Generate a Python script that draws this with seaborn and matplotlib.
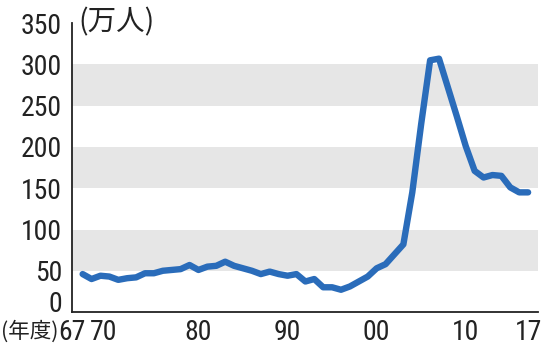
import matplotlib
matplotlib.use("Agg")
import matplotlib.pyplot as plt
import matplotlib.transforms as mtrans
import seaborn as sns
import pandas as pd
from matplotlib import font_manager

years = list(range(1967, 2018))
visitors = [46, 40, 44, 43, 39, 41, 42, 47, 47, 50,
            51, 52, 57, 51, 55, 56, 61, 56, 53, 50,
            46, 49, 46, 44, 46, 37, 40, 30, 30, 27,
            31, 37, 43, 53, 58, 70, 82, 145, 228, 305,
            307, 272, 237, 201, 171, 163, 166, 165, 151, 145, 145]
xtick_pos = [1967, 1970, 1980, 1990, 2000, 2010, 2017]
xtick_labels = ["67", "70", "80", "90", "00", "10", "17"]
ytick_pos = [0, 50, 100, 150, 200, 250, 300, 350]
bands = [(50, 100), (150, 200), (250, 300)]

sns.set_theme(style="white")
names = {f.name for f in font_manager.fontManager.ttflist}
num_font = next((n for n in ["Roboto Condensed", "Archivo Narrow", "PT Sans Narrow",
                             "Liberation Sans"] if n in names), "DejaVu Sans")
fam = [num_font, 'Noto Sans CJK JP', 'DejaVu Sans']
cjk = ['Noto Sans CJK JP', 'DejaVu Sans']
plt.rcParams['font.family'] = fam

df = pd.DataFrame({"year": years, "visitors": visitors})

fig = plt.figure(figsize=(5.45, 3.51), dpi=100)
ax = fig.add_axes([0.132, 0.111, 0.855, 0.823])

for lo, hi in bands:
    ax.axhspan(lo, hi, color="#e6e6e6", lw=0, zorder=0)

sns.lineplot(data=df, x="year", y="visitors", ax=ax, color="#2a6cba",
             linewidth=4.6, solid_capstyle="round", solid_joinstyle="round", zorder=3)

ax.set_xlim(1965.8, 2018.1)
ax.set_ylim(0, 350)
ax.set_xlabel("")
ax.set_ylabel("")

ax.set_xticks(xtick_pos)
ax.set_xticklabels(xtick_labels)
ax.set_xticks(years, minor=True)
ax.set_yticks(ytick_pos)
ax.set_yticklabels([str(v) for v in ytick_pos])

ax.tick_params(axis="both", which="both", direction="in", color="#222222",
               width=1.1, labelsize=20, labelcolor="#222222")
ax.tick_params(axis="x", which="both", length=5, pad=5)
ax.tick_params(axis="y", which="major", length=5, pad=7)

xl = ax.get_xticklabels()
for lab, dx in ((xl[0], -11), (xl[1], -6)):
    lab.set_transform(lab.get_transform() +
                      mtrans.ScaledTranslation(dx / 100, 0, fig.dpi_scale_trans))
yl = ax.get_yticklabels()
yl[0].set_verticalalignment("baseline")

for s in ["top", "right"]:
    ax.spines[s].set_visible(False)
for s in ["left", "bottom"]:
    ax.spines[s].set_color("#222222")
    ax.spines[s].set_linewidth(1.3)

fig.text(0.144, 0.935, "(万人)", fontsize=20.5, color="#222222",
         family=cjk, ha="left", va="center")
fig.text(0.002, 0.055, "(年度)", fontsize=15.5, color="#222222",
         family=cjk, ha="left", va="center")

fig.savefig("out.png", dpi=100, facecolor="white")
